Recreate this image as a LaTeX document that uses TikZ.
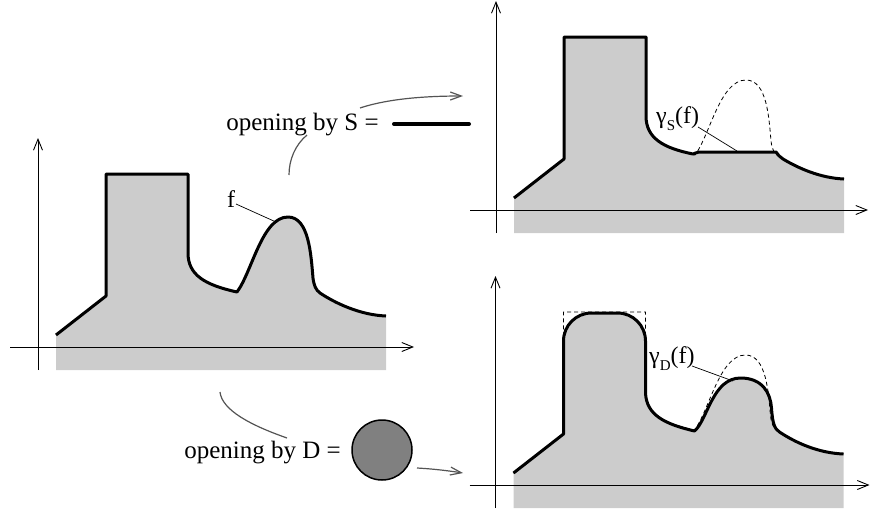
\documentclass[tikz,border=0pt]{standalone}
\usepackage{fontspec}
\setmainfont{Liberation Serif}
\usetikzlibrary{arrows.meta}
\definecolor{fillgray}{gray}{0.8}
\definecolor{conngray}{rgb}{0.33,0.33,0.33}
\definecolor{diskgray}{gray}{0.5}
\newcommand\fcurveP{(56,335) -- (106,296) -- (106,174) -- (188,174) -- (188,253)
 .. controls (188,275) and (205,285) .. (237,292)
 .. controls (252,272) and (262,217) .. (288,217)
 .. controls (309,217) and (311,255) .. (313,278)
 .. controls (314,286) and (316,290) .. (320,293)
 .. controls (335,303) and (360,315) .. (386,316)}
\newcommand\scurveP{(56,335) -- (106,296) -- (106,174) -- (188,174) -- (188,253)
 .. controls (188,275) and (205,285) .. (235,291)
 .. controls (237,291) and (238,289) .. (241,289) -- (318,289)
 .. controls (320,292) and (322,294) .. (325,296)
 .. controls (340,305) and (362,315) .. (386,316)}
\newcommand\dcurveP{(56,335) -- (106,296) -- (106,203)
 .. controls (106,187.5) and (118.5,175) .. (134,175) -- (160,175)
 .. controls (175.5,175) and (188,187.5) .. (188,203) -- (188,255)
 .. controls (189,277) and (207,286) .. (237,293)
 .. controls (250,282) and (255,240) .. (283,240)
 .. controls (305,240) and (313,255) .. (314,270)
 .. controls (315,285) and (317,291) .. (322,294)
 .. controls (337,304) and (360,315) .. (386,316)}
\begin{document}
\begin{tikzpicture}[x=1pt,y=-1pt,
  axis/.style={line width=0.9pt,-{Straight Barb[length=11pt,width=9pt]}},
  profile/.style={line width=3pt,line join=round},
  ghost/.style={line width=0.8pt,dash pattern=on 4pt off 3pt},
  leader/.style={line width=0.7pt},
  conn/.style={conngray,line width=1.2pt},
  connarrow/.style={conn,-{Straight Barb[length=11pt,width=8pt]}},
  lbl/.style={font=\fontsize{25}{30}\selectfont,inner sep=0pt},
  sublbl/.style={font=\fontsize{24}{28}\selectfont,inner sep=0pt},
]
\useasboundingbox (0,0) rectangle (870,515);
% left plot: f
\begin{scope}
  \fill[fillgray] \fcurveP -- (386,370) -- (56,370) -- cycle;
  \draw[axis] (38,370) -- (38,138);
  \draw[axis] (10,347) -- (414,347);
  \draw[profile] \fcurveP;
  \node[sublbl] (flabel) at (231,199) {f};
  \coordinate (fpt) at (276,222);
  \draw[leader] (236,204) -- (fpt);
\end{scope}
% top right: opening by S
\begin{scope}[shift={(458,-137)}]
  \fill[fillgray] \scurveP -- (386,370) -- (56,370) -- cycle;
  \draw[axis] (38,370) -- (38,138);
  \draw[axis] (12,347) -- (410,347);
  \draw[ghost] \fcurveP;
  \draw[profile] \scurveP;
\end{scope}
% bottom right: opening by D
\begin{scope}[shift={(457.5,138)}]
  \fill[fillgray] \dcurveP -- (386,370) -- (56,370) -- cycle;
  \draw[axis] (38,370) -- (38,138);
  \draw[axis] (12,347) -- (412,347);
  \draw[ghost] \fcurveP;
  \draw[profile] \dcurveP;
\end{scope}
% labels
\node[sublbl,anchor=west] (gslabel) at (656,119) {γ\raisebox{-7pt}{\fontsize{15}{15}\selectfont S}(f)};
\coordinate (gspt) at (737,151);
\draw[leader] (698,127) -- (gspt);
\node[sublbl,anchor=west] (gdlabel) at (649,359) {γ\raisebox{-7pt}{\fontsize{15}{15}\selectfont D}(f)};
\coordinate (gdpt) at (733,381);
\draw[leader] (692,366) -- (gdpt);
% structuring elements
\node[lbl,anchor=base] (optS) at (302.5,130) {opening by S =};
\coordinate (segA) at (394,124);
\coordinate (segB) at (469,124);
\draw[line width=4pt,line cap=round] (segA) -- (segB);
\node[lbl,anchor=base] (optD) at (262.5,458) {opening by D =};
\node[circle,draw,line width=1.5pt,fill=diskgray,minimum size=60pt,inner sep=0pt] (disk) at (382,450) {};
% connectors
\coordinate (sa) at (360,108);
\coordinate (sb) at (463,96);
\draw[connarrow] (sa) .. controls (390,98) and (430,96) .. (sb);
\coordinate (sc) at (307,135);
\coordinate (sd) at (289,175);
\draw[conn] (sc) .. controls (295,145) and (289,160) .. (sd);
\coordinate (da) at (220,392);
\coordinate (db) at (287,438);
\draw[conn] (da) .. controls (222,410) and (250,425) .. (db);
\coordinate (dc) at (417,468);
\coordinate (dd) at (463,473);
\draw[connarrow] (dc) .. controls (435,469) and (450,471) .. (dd);
\end{tikzpicture}
\end{document}
